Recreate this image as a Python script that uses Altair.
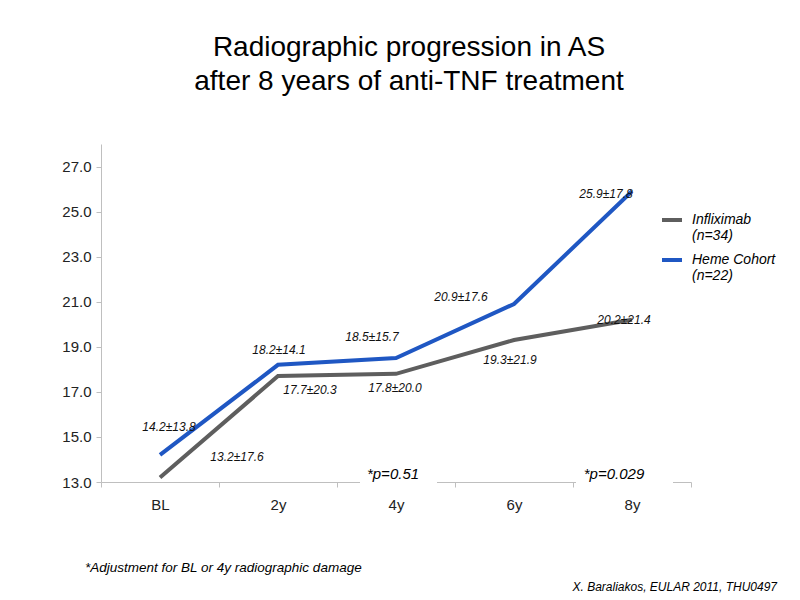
import altair as alt
import pandas as pd

# ---- data ----
CATEGORIES = ["BL", "2y", "4y", "6y", "8y"]
SERIES = ["Infliximab\n(n=34)", "Heme Cohort\n(n=22)"]
INFLIXIMAB = [13.2, 17.7, 17.8, 19.3, 20.2]
INFLIXIMAB_LBL = ["13.2±17.6", "17.7±20.3", "17.8±20.0", "19.3±21.9", "20.2±21.4"]
HEME = [14.2, 18.2, 18.5, 20.9, 25.9]
HEME_LBL = ["14.2±13.8", "18.2±14.1", "18.5±15.7", "20.9±17.6", "25.9±17.8"]
P_CATS = ["4y", "8y"]
P_TEXT = ["*p=0.51", "*p=0.029"]
Y_TICKS = [13, 15, 17, 19, 21, 23, 25, 27]

# ---- styling ----
GRAY = "#5E5E5E"
BLUE = "#1F57C3"
AXIS_COL = "#BFBFBF"
SANS = "Liberation Sans, Arial, sans-serif"
W, H = 590, 338
# label offsets (px) per point
INF_DX = [77, 32, -1, -4, -8]
INF_DY = [-20, 14, 14, 20, 0]
HEME_DX = [9, 1, -24, -53, -26]
HEME_DY = [-28, -15, -21, -7, 3]
P_DX = [-3, -18]

rows = []
for s, vals, lbls in [(SERIES[0], INFLIXIMAB, INFLIXIMAB_LBL), (SERIES[1], HEME, HEME_LBL)]:
    for c, v, l in zip(CATEGORIES, vals, lbls):
        rows.append({"cat": c, "series": s, "value": v, "label": l})
df = pd.DataFrame(rows)

x_enc = alt.X("cat:N", sort=CATEGORIES,
              scale=alt.Scale(domain=CATEGORIES, paddingInner=0, paddingOuter=0),
              axis=alt.Axis(title=None, labelAngle=0, tickBand="extent", domainColor=AXIS_COL,
                            tickColor=AXIS_COL, tickSize=5, labelFont=SANS, labelFontSize=15,
                            labelColor="#222222", labelPadding=10, grid=False))
y_enc = alt.Y("value:Q",
              scale=alt.Scale(domain=[13, 28], nice=False, zero=False),
              axis=alt.Axis(title=None, values=Y_TICKS, format=".1f", domainColor=AXIS_COL,
                            tickColor=AXIS_COL, tickSize=5, labelFont=SANS, labelFontSize=15,
                            labelColor="#222222", labelPadding=5, grid=False))

lines = alt.Chart(df).mark_line(strokeWidth=4).encode(
    x=x_enc, y=y_enc,
    color=alt.Color("series:N", sort=SERIES,
                    scale=alt.Scale(domain=SERIES, range=[GRAY, BLUE]),
                    legend=alt.Legend(title=None, orient="none", legendX=559, legendY=64,
                                      symbolType="stroke", symbolSize=400, symbolStrokeWidth=4,
                                      labelFont=SANS, labelFontSize=14, labelFontStyle="italic",
                                      labelColor="black", labelOffset=8, rowPadding=5,
                                      labelExpr="split(datum.label, '\\n')")),
)

layers = [lines]
for s, vals, lbls, dxs, dys in [(SERIES[0], INFLIXIMAB, INFLIXIMAB_LBL, INF_DX, INF_DY),
                                (SERIES[1], HEME, HEME_LBL, HEME_DX, HEME_DY)]:
    for i in range(len(CATEGORIES)):
        d = pd.DataFrame([{"cat": CATEGORIES[i], "value": vals[i], "label": lbls[i]}])
        layers.append(alt.Chart(d).mark_text(dx=dxs[i], dy=dys[i], font=SANS, fontSize=12,
                                             fontStyle="italic", color="#111111").encode(
            x=alt.X("cat:N", sort=CATEGORIES), y="value:Q", text="label:N"))

# white gaps in the x axis behind the p-values
gap = pd.DataFrame({"x0": [259, 475], "x1": [336, 572]})
layers.append(alt.Chart(gap).mark_rect(color="white").encode(
    x=alt.X("x0:Q", scale=None), x2="x1:Q", y=alt.value(318), y2=alt.value(341)))

pdf = pd.DataFrame({"cat": P_CATS, "text": P_TEXT})
for i in range(len(P_CATS)):
    layers.append(alt.Chart(pdf.iloc[[i]]).mark_text(dx=P_DX[i], font=SANS, fontSize=15,
                                                     fontStyle="italic", color="black").encode(
        x=alt.X("cat:N", sort=CATEGORIES), y=alt.value(330), text="text:N"))

foot = pd.DataFrame({"t": ["*Adjustment for BL or 4y radiographic damage"]})
layers.append(alt.Chart(foot).mark_text(align="left", font=SANS, fontSize=13.5,
                                        fontStyle="italic", color="black").encode(
    x=alt.value(-16), y=alt.value(424), text="t:N"))
src = pd.DataFrame({"t": ["X. Baraliakos, EULAR 2011, THU0497"]})
layers.append(alt.Chart(src).mark_text(align="right", font=SANS, fontSize=12,
                                       fontStyle="italic", color="black").encode(
    x=alt.value(676), y=alt.value(443), text="t:N"))

chart = alt.layer(*layers).properties(
    width=W, height=H,
    autosize=alt.AutoSizeParams(type="none"),
    padding={"left": 93, "top": 136, "right": 101, "bottom": 112},
    title=alt.TitleParams(["Radiographic progression in AS", "after 8 years of anti-TNF treatment"],
                          font=SANS, fontSize=28, fontWeight="normal", color="black",
                          anchor="middle", dx=13, offset=48, lineHeight=34),
).configure_view(stroke=None)

chart.save("out.html", embed_options={"renderer": "svg", "actions": False})
